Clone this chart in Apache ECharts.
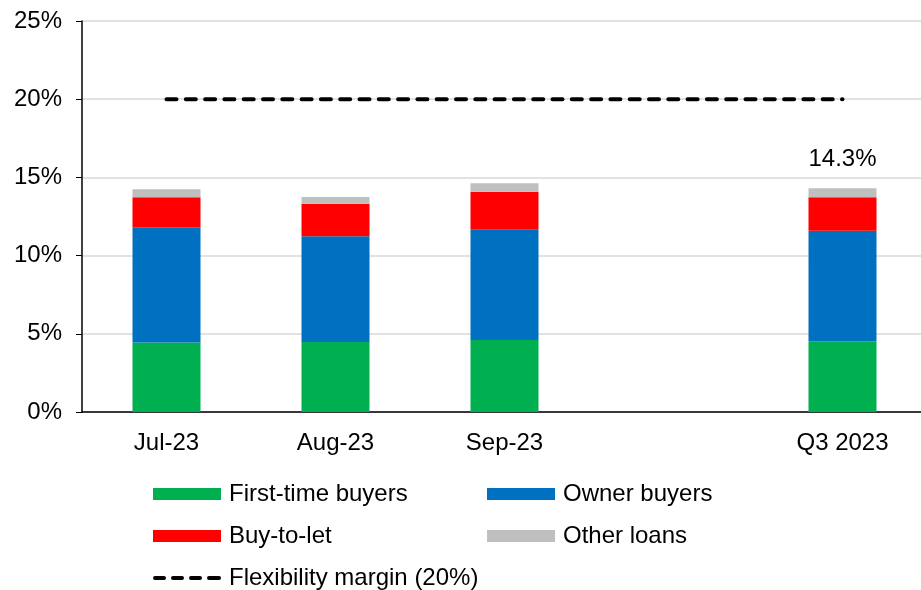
<!DOCTYPE html>
<html><head><meta charset="utf-8">
<script src="https://cdn.jsdelivr.net/npm/echarts@6/dist/echarts.min.js"></script>
<style>html,body{margin:0;padding:0;background:#fff}#c{width:921px;height:590px}</style>
</head><body><div id="c"></div>
<script>
const categories = ['Jul-23', 'Aug-23', 'Sep-23', '', 'Q3 2023'];
const firstTime = [4.45, 4.47, 4.60, null, 4.52];
const owner = [7.36, 6.76, 7.06, null, 7.07];
const buyToLet = [1.92, 2.09, 2.43, null, 2.14];
const otherLoans = [0.51, 0.43, 0.53, null, 0.57];
const margin = [20, 20, 20, 20, 20];
const yTicks = [0, 5, 10, 15, 20, 25];
const labelledIndex = 4;

const F = 'Liberation Sans, Arial, sans-serif';
const FS = 24;
const otherData = otherLoans.map((v, i) => {
  if (i !== labelledIndex) return v;
  const tot = firstTime[i] + owner[i] + buyToLet[i] + otherLoans[i];
  return {value: v, label: {show: true, position: 'top', distance: 17, formatter: tot.toFixed(1) + '%', color: '#000', fontSize: FS, fontFamily: F}};
});
const chart = echarts.init(document.getElementById('c'));
function lg(name, left, top, icon, h) {
  return {data: [{name: name, icon: icon}], left: left, top: top, itemWidth: 68, itemHeight: h || 12, itemGap: 0, padding: 0,
    textStyle: {fontSize: FS, fontFamily: F, color: '#000', padding: [0, 0, 0, 3]}, selectedMode: false};
}
const dashIcon = 'path://M2,0h9a2,2 0 0 1 0,4h-9a2,2 0 0 1 0,-4z M20,0h9a2,2 0 0 1 0,4h-9a2,2 0 0 1 0,-4z M38,0h9a2,2 0 0 1 0,4h-9a2,2 0 0 1 0,-4z M56,0h10a2,2 0 0 1 0,4h-10a2,2 0 0 1 0,-4z';
chart.setOption({
  animation: false,
  grid: {left: 82, top: 21, width: 845, height: 391, outerBoundsMode: 'none', containLabel: false},
  legend: [lg('First-time buyers', 153, 482, 'rect'), lg('Owner buyers', 487, 482, 'rect'), lg('Buy-to-let', 153, 524, 'rect'), lg('Other loans', 487, 524, 'rect'),
    Object.assign(lg('Flexibility margin (20%)', 153, 566, dashIcon, 4), {itemStyle: {color: '#000'}})],
  xAxis: {type: 'category', data: categories,
    axisLine: {lineStyle: {color: '#000', width: 1.5}}, axisTick: {show: false},
    axisLabel: {fontSize: FS, fontFamily: F, color: '#000', margin: 19}},
  yAxis: {type: 'value', min: 0, max: 25, interval: 5,
    axisLine: {show: true, lineStyle: {color: '#000', width: 1.5}},
    axisTick: {show: true, length: 6, lineStyle: {color: '#000'}},
    splitLine: {lineStyle: {color: '#d9d9d9', width: 1.5}},
    axisLabel: {fontSize: FS, fontFamily: F, color: '#000', margin: 20, formatter: v => yTicks.includes(v) ? v + '%' : ''}},
  series: [
    {name: 'First-time buyers', type: 'bar', stack: 's', data: firstTime, barWidth: 68, itemStyle: {color: '#00b050'}},
    {name: 'Owner buyers', type: 'bar', stack: 's', data: owner, itemStyle: {color: '#0070c0'}},
    {name: 'Buy-to-let', type: 'bar', stack: 's', data: buyToLet, itemStyle: {color: '#ff0000'}},
    {name: 'Other loans', type: 'bar', stack: 's', data: otherData, itemStyle: {color: '#bfbfbf'}},
    {name: 'Flexibility margin (20%)', type: 'line', data: margin, symbol: 'none', z: 5,
      lineStyle: {color: '#000', width: 4, type: [10, 9.3], cap: 'round'}, itemStyle: {color: '#000'}}
  ]
});
</script></body></html>
